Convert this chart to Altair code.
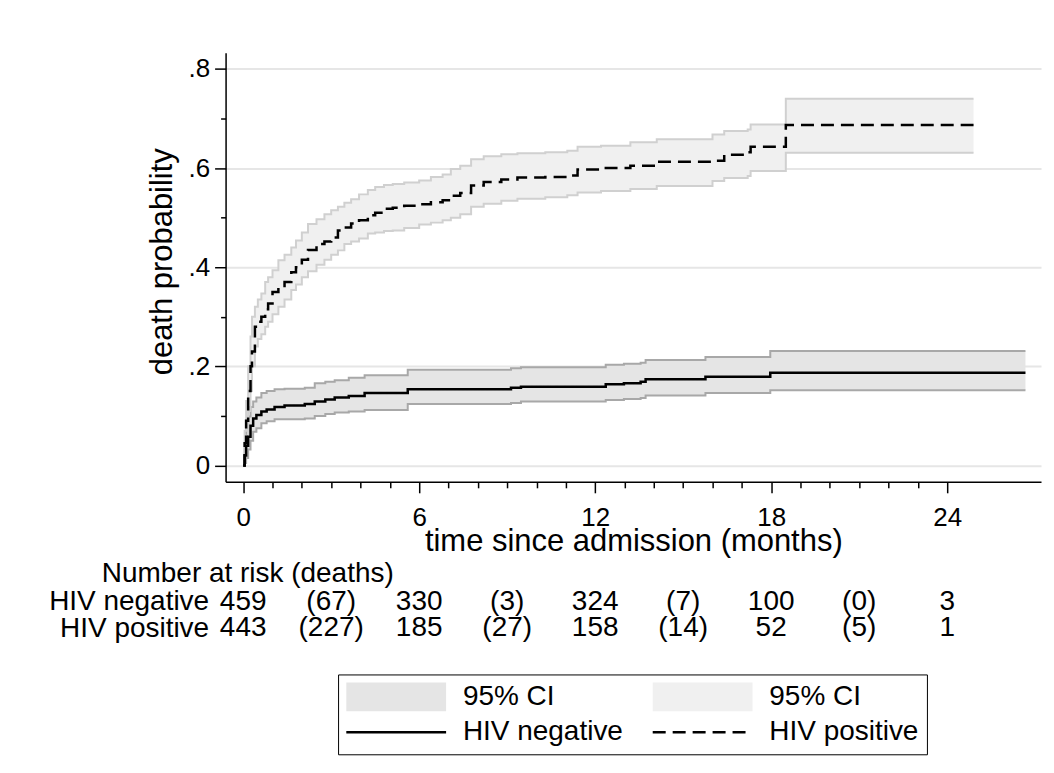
import altair as alt
import pandas as pd

FONT = "Liberation Sans"

# ---- Kaplan-Meier failure curves (time in months) ----
neg_time = [0, 0.05, 0.1, 0.17, 0.25, 0.34, 0.45, 0.62, 0.8, 1.07,
            1.41, 2.1, 2.44, 2.8, 3.12, 3.6, 4.14, 5.61, 9.13, 9.47,
            12.36, 12.98, 13.55, 13.72, 15.76, 17.97, 26.67]
neg_est = [0, 0.02, 0.04, 0.058, 0.08, 0.095, 0.102, 0.109, 0.113, 0.118,
           0.121, 0.124, 0.129, 0.133, 0.137, 0.14, 0.146, 0.154, 0.157, 0.159,
           0.164, 0.166, 0.169, 0.174, 0.179, 0.187, 0.187]
neg_lo = [0, 0.005, 0.015, 0.032, 0.05, 0.068, 0.075, 0.085, 0.089, 0.093,
          0.093, 0.095, 0.1, 0.104, 0.107, 0.109, 0.112, 0.124, 0.126, 0.129,
          0.132, 0.134, 0.136, 0.141, 0.146, 0.152, 0.152]
neg_hi = [0, 0.045, 0.075, 0.099, 0.118, 0.129, 0.137, 0.146, 0.15, 0.154,
          0.155, 0.157, 0.166, 0.169, 0.172, 0.177, 0.182, 0.193, 0.196, 0.198,
          0.203, 0.205, 0.207, 0.213, 0.219, 0.231, 0.231]

pos_time = [0, 0.05, 0.1, 0.17, 0.25, 0.3, 0.4, 0.5, 0.62, 0.75,
            0.85, 1.0, 1.2, 1.41, 1.64, 1.8, 2.0, 2.21, 2.5, 2.77,
            3.0, 3.23, 3.45, 3.68, 3.95, 4.25, 4.5, 4.8, 5.1, 5.49,
            6.0, 6.4, 6.8, 7.08, 7.4, 7.77, 8.2, 8.8, 9.35, 10.3,
            11.05, 11.4, 12.2, 13.2, 14.1, 16.0, 16.4, 17.2, 17.3, 18.5,
            24.9]
pos_est = [0, 0.045, 0.09, 0.15, 0.2, 0.23, 0.28, 0.29, 0.3, 0.315,
           0.327, 0.35, 0.358, 0.37, 0.39, 0.4, 0.415, 0.435, 0.447, 0.452,
           0.46, 0.474, 0.48, 0.488, 0.495, 0.505, 0.51, 0.518, 0.52, 0.524,
           0.527, 0.531, 0.535, 0.544, 0.55, 0.565, 0.572, 0.577, 0.581, 0.582,
           0.585, 0.597, 0.6, 0.605, 0.613, 0.615, 0.627, 0.632, 0.643, 0.687,
           0.687]
pos_lo = [0, 0.03, 0.06, 0.11, 0.15, 0.2, 0.24, 0.255, 0.265, 0.28,
          0.29, 0.305, 0.32, 0.335, 0.354, 0.365, 0.38, 0.392, 0.405, 0.415,
          0.425, 0.434, 0.447, 0.452, 0.458, 0.468, 0.47, 0.473, 0.474, 0.479,
          0.486, 0.49, 0.495, 0.5, 0.507, 0.522, 0.528, 0.534, 0.538, 0.541,
          0.545, 0.551, 0.554, 0.558, 0.564, 0.574, 0.58, 0.584, 0.594, 0.631,
          0.631]
pos_hi = [0, 0.07, 0.13, 0.2, 0.26, 0.3, 0.32, 0.335, 0.347, 0.37,
          0.38, 0.394, 0.414, 0.425, 0.44, 0.454, 0.47, 0.487, 0.497, 0.507,
          0.515, 0.522, 0.53, 0.537, 0.547, 0.556, 0.562, 0.566, 0.568, 0.571,
          0.575, 0.582, 0.587, 0.598, 0.605, 0.618, 0.624, 0.628, 0.63, 0.632,
          0.635, 0.643, 0.645, 0.652, 0.658, 0.668, 0.675, 0.678, 0.688, 0.74,
          0.74]

groups = ["HIV negative", "HIV positive"]
ci_keys = ["95% CI (HIV negative)", "95% CI (HIV positive)"]
# legend order (column-major: CI row on top, lines row below)
legend_keys = ["95% CI (HIV negative)", "HIV negative", "95% CI (HIV positive)", "HIV positive"]

# ---- risk table ----
risk_times = [0, 3, 6, 9, 12, 15, 18, 21, 24]
risk_neg = ["459", "(67)", "330", "(3)", "324", "(7)", "100", "(0)", "3"]
risk_pos = ["443", "(227)", "185", "(27)", "158", "(14)", "52", "(5)", "1"]

# ---- ticks ----
y_ticks = [0, 0.2, 0.4, 0.6, 0.8]
y_minor = [0.1, 0.3, 0.5, 0.7]
x_ticks = [0, 6, 12, 18, 24]
x_minor = [m for m in range(1, 24) if m % 6 != 0]

# ---- data frames ----
df_neg = pd.DataFrame({"t": neg_time, "est": neg_est, "lo": neg_lo, "hi": neg_hi,
                       "group": groups[0], "ci": ci_keys[0]})
df_pos = pd.DataFrame({"t": pos_time, "est": pos_est, "lo": pos_lo, "hi": pos_hi,
                       "group": groups[1], "ci": ci_keys[1]})
df = pd.concat([df_neg, df_pos], ignore_index=True)

risk_df = pd.DataFrame({
    "t": risk_times + risk_times,
    "row": [groups[0]] * len(risk_times) + [groups[1]] * len(risk_times),
    "txt": risk_neg + risk_pos,
})

# ---- scales ----
xs = alt.Scale(domain=[-0.6, 27.2], nice=False, zero=False)
ys = alt.Scale(domain=[-0.033, 0.833], nice=False, zero=False)

RECT = "M-3.448,-1H3.448V1H-3.448Z"
LINE = "M-3.448,0H3.448"
fill_scale = alt.Scale(domain=legend_keys, range=["#e5e5e5", "transparent", "#f0f0f0", "transparent"])
stroke_scale = alt.Scale(domain=legend_keys, range=["transparent", "black", "transparent", "black"])
sw_scale = alt.Scale(type="ordinal", domain=legend_keys, range=[0, 2.5, 0, 2.5])
dash_scale = alt.Scale(domain=legend_keys, range=[[1, 0], [1, 0], [1, 0], [13, 7]])
shape_scale = alt.Scale(domain=legend_keys, range=[RECT, LINE, RECT, LINE])

LEG = alt.Legend(
    orient="none", legendX=112.7, legendY=623, columns=2, columnPadding=24, rowPadding=5,
    padding=8, symbolOffset=34.25, labelOffset=50.85, labelFontSize=28, labelFont=FONT,
    labelColor="black", labelLimit=400,
    labelExpr="indexof(datum.label, '95% CI') == 0 ? '95% CI' : datum.label",
    symbolSize=841, symbolFillColor="transparent",
    symbolStrokeColor="black", symbolOpacity=1, strokeColor="black", fillColor="white",
    title=None,
)

x_major_axis = alt.Axis(values=x_ticks, orient="bottom", tickSize=11, tickWidth=1.5, tickColor="black",
                        domainColor="black", domainWidth=1.5, labelFontSize=26, labelPadding=12,
                        labelColor="black", labelFont=FONT, labelFlush=False, grid=False,
                        titleFontSize=31, titleFont=FONT, titleFontWeight="normal", titleColor="black",
                        titlePadding=-4)
y_major_axis = alt.Axis(values=y_ticks, orient="left", tickSize=11, tickWidth=1.5, tickColor="black",
                        domainColor="black", domainWidth=1.5, labelFontSize=26, labelPadding=5,
                        labelColor="black", labelFont=FONT, labelFlush=False,
                        labelExpr="datum.value == 0 ? '0' : replace(format(datum.value, '.1f'), '0.', '.')",
                        grid=True, gridColor="#e6e6e6", gridWidth=2,
                        titleFontSize=31, titleFont=FONT, titleFontWeight="normal", titleColor="black",
                        titlePadding=10, titleY=209)
x_minor_axis = alt.Axis(values=x_minor, orient="bottom", tickSize=6, tickWidth=1.5, tickColor="black",
                        domain=False, labels=False, grid=False, title=None)
y_minor_axis = alt.Axis(values=y_minor, orient="left", tickSize=5, tickWidth=1.5, tickColor="black",
                        domain=False, labels=False, grid=False, title=None)

base = alt.Chart(df)

ci_area = base.mark_area(interpolate="step-after", opacity=1).encode(
    x=alt.X("t:Q", scale=xs, axis=x_major_axis, title="time since admission (months)"),
    y=alt.Y("lo:Q", scale=ys, axis=y_major_axis, title="death probability"),
    y2="hi:Q",
    fill=alt.Fill("ci:N", scale=fill_scale, legend=LEG),
)

bound_neg = alt.Chart(df_neg).transform_fold(["lo", "hi"], as_=["b", "v"]).mark_line(
    interpolate="step-after", stroke="#a8a8a8", strokeWidth=2
).encode(
    x=alt.X("t:Q", scale=xs, axis=x_minor_axis),
    y=alt.Y("v:Q", scale=ys, axis=y_minor_axis),
    detail="b:N",
)

bound_pos = alt.Chart(df_pos).transform_fold(["lo", "hi"], as_=["b", "v"]).mark_line(
    interpolate="step-after", stroke="#d0d0d0", strokeWidth=2
).encode(
    x=alt.X("t:Q", scale=xs, axis=None),
    y=alt.Y("v:Q", scale=ys, axis=None),
    detail="b:N",
)

curves = base.mark_line(interpolate="step-after").encode(
    x=alt.X("t:Q", scale=xs, axis=None),
    y=alt.Y("est:Q", scale=ys, axis=None),
    stroke=alt.Stroke("group:N", scale=stroke_scale, legend=LEG),
    strokeWidth=alt.StrokeWidth("group:N", scale=sw_scale, legend=LEG),
    strokeDash=alt.StrokeDash("group:N", scale=dash_scale, legend=LEG),
)

# invisible layer that only supplies the legend symbol shapes
shapes = base.mark_point(opacity=0).encode(
    x=alt.X("t:Q", scale=xs, axis=None),
    y=alt.Y("est:Q", scale=ys, axis=None),
    shape=alt.Shape("group:N", scale=shape_scale, legend=LEG),
)

top = alt.layer(ci_area, bound_neg, bound_pos, curves, shapes).resolve_axis(
    x="independent", y="independent"
).properties(width=817, height=430)

table = alt.Chart(risk_df).mark_text(fontSize=28, font=FONT, color="black").encode(
    x=alt.X("t:Q", scale=xs, axis=None),
    y=alt.Y("row:N", scale=alt.Scale(domain=groups),
            axis=alt.Axis(title=None, ticks=False, domain=False, labelFontSize=28, labelFont=FONT,
                          labelColor="black", labelPadding=17, labelLimit=400)),
    text="txt:N",
).properties(
    width=817, height=53,
    title=alt.TitleParams("Number at risk (deaths)", anchor="start", frame="group", dx=-124,
                          fontSize=28, font=FONT, fontWeight="normal", color="black", offset=0),
)

chart = alt.vconcat(top, table, spacing=107, bounds="flush").properties(
    padding={"left": 40, "top": 44, "right": 5, "bottom": 5},
    background="white",
).configure_view(stroke=None)

chart.save("out.html", embed_options={"renderer": "svg", "actions": False})
